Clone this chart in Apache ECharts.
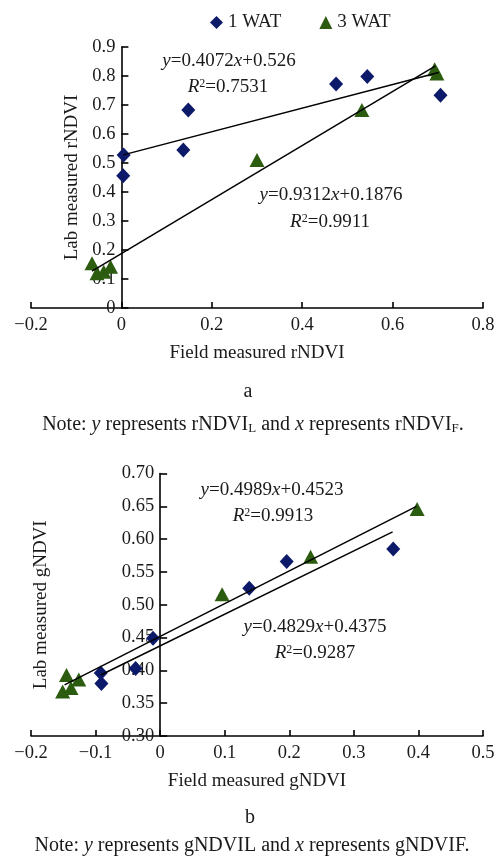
<!DOCTYPE html>
<html>
<head>
<meta charset="utf-8">
<script src="https://cdn.jsdelivr.net/npm/echarts@6/dist/echarts.min.js"></script>
<style>
html,body{margin:0;padding:0;background:#fff;}
#main{width:497px;height:861px;}
</style>
</head>
<body>
<div id="main"></div>
<script>
// ---- Chart a: rNDVI ----
var aWat1X = [0.004, 0.005, 0.137, 0.148, 0.475, 0.544, 0.706];
var aWat1Y = [0.456, 0.528, 0.545, 0.683, 0.772, 0.798, 0.734];
var aWat3X = [-0.065, -0.054, -0.039, -0.024, 0.300, 0.532, 0.693, 0.698];
var aWat3Y = [0.154, 0.120, 0.125, 0.142, 0.510, 0.683, 0.823, 0.809];
var aFit1X = [0.004, 0.702];
var aFit1Y = [0.528, 0.812];
var aFit3X = [-0.065, 0.695];
var aFit3Y = [0.127, 0.835];
var aXTicks = [-0.2, 0, 0.2, 0.4, 0.6, 0.8];
var aYTicks = [0, 0.1, 0.2, 0.3, 0.4, 0.5, 0.6, 0.7, 0.8, 0.9];

// ---- Chart b: gNDVI ----
var bWat1X = [-0.092, -0.091, -0.038, -0.011, 0.138, 0.196, 0.361];
var bWat1Y = [0.396, 0.380, 0.403, 0.449, 0.525, 0.566, 0.585];
var bWat3X = [-0.151, -0.145, -0.138, -0.126, 0.096, 0.233, 0.398];
var bWat3Y = [0.368, 0.393, 0.373, 0.386, 0.516, 0.573, 0.646];
var bFit1X = [-0.092, 0.360];
var bFit1Y = [0.393, 0.611];
var bFit3X = [-0.148, 0.397];
var bFit3Y = [0.378, 0.650];
var bXTicks = [-0.2, -0.1, 0, 0.1, 0.2, 0.3, 0.4, 0.5];
var bYTicks = [0.30, 0.35, 0.40, 0.45, 0.50, 0.55, 0.60, 0.65, 0.70];

var seriesNames = ['1 WAT', '3 WAT'];

function pairs(xs, ys) { return xs.map(function (x, i) { return [x, ys[i]]; }); }

var FONT = 'Liberation Serif';
var NAVY = '#0d1a6a';
var GREEN = '#2b5c10';
var TXT = '#1a1a1a';
var GRID_W = 452;

function minusFmt(v) { return String(v).replace('-', '\u2212'); }

function xAxisCfg(idx, ticks, name) {
  return {
    type: 'value', gridIndex: idx,
    min: ticks[0], max: ticks[ticks.length - 1], interval: ticks[1] - ticks[0],
    name: name, nameLocation: 'middle', nameGap: 36,
    nameTextStyle: { fontFamily: FONT, fontSize: 19, color: TXT },
    axisLine: { onZero: true, lineStyle: { color: '#000', width: 1.6 } },
    axisTick: { inside: true, length: 6, lineStyle: { color: '#000', width: 1.6 } },
    axisLabel: { margin: 8, fontFamily: FONT, fontSize: 18.5, color: TXT,
      formatter: function (v) { return minusFmt(+v.toFixed(2)); } },
    splitLine: { show: false }
  };
}
// y axis sits on x = 0 of the companion x axis (shifted via offset)
function yAxisCfg(idx, ticks, xTicks, name, gap, dec) {
  var xmin = xTicks[0], xmax = xTicks[xTicks.length - 1];
  var off = -(0 - xmin) / (xmax - xmin) * GRID_W;
  return {
    type: 'value', gridIndex: idx, position: 'left', offset: off,
    min: ticks[0], max: ticks[ticks.length - 1], interval: +(ticks[1] - ticks[0]).toFixed(3),
    name: name, nameLocation: 'middle', nameGap: gap, nameRotate: 90,
    nameTextStyle: { fontFamily: FONT, fontSize: 19, color: TXT },
    axisLine: { show: true, onZero: false, lineStyle: { color: '#000', width: 1.6 } },
    axisTick: { show: true, inside: true, length: 7, lineStyle: { color: '#000', width: 1.6 } },
    axisLabel: { margin: 6, fontFamily: FONT, fontSize: 18.5, color: TXT,
      formatter: function (v) { return dec ? v.toFixed(dec) : String(+v.toFixed(2)); } },
    splitLine: { show: false }
  };
}

function fitLine(xi, xs, ys) {
  return { type: 'line', name: 'fit', xAxisIndex: xi, yAxisIndex: xi, data: pairs(xs, ys),
    symbol: 'none', silent: true, z: 3,
    lineStyle: { color: '#000', width: 1.5 } };
}
function scat(xi, name, sym, color, xs, ys) {
  return { type: 'scatter', name: name, xAxisIndex: xi, yAxisIndex: xi, data: pairs(xs, ys),
    symbol: sym, symbolSize: sym === 'diamond' ? [14, 15] : [15, 14],
    itemStyle: { color: color, opacity: 1 }, z: 2 };
}

var rich = {
  i: { fontFamily: FONT, fontSize: 19, fontStyle: 'italic', fill: TXT },
  n: { fontFamily: FONT, fontSize: 19, fill: TXT },
  sup: { fontFamily: FONT, fontSize: 12, verticalAlign: 'top', fill: TXT },
  sub: { fontFamily: FONT, fontSize: 13, verticalAlign: 'bottom', fill: TXT },
  ns: { fontFamily: FONT, fontSize: 20, fill: TXT },
  is: { fontFamily: FONT, fontSize: 20, fontStyle: 'italic', fill: TXT }
};
function txt(x, y, s) {
  return { type: 'text', x: x, y: y, style: { text: s, rich: rich, align: 'center', verticalAlign: 'middle',
    fontFamily: FONT, fontSize: 19, fill: TXT } };
}

var chart = echarts.init(document.getElementById('main'), null, { renderer: 'canvas' });
chart.setOption({
  backgroundColor: '#fff',
  animation: false,
  legend: {
    data: [{ name: seriesNames[0], icon: 'diamond' }, { name: seriesNames[1], icon: 'triangle' }],
    left: 205, top: 8, itemWidth: 13, itemHeight: 13, itemGap: 38,
    itemStyle: { opacity: 1 },
    textStyle: { fontFamily: FONT, fontSize: 19, color: TXT }
  },
  grid: [
    { left: 31, width: GRID_W, top: 47, height: 261, outerBoundsMode: 'none', containLabel: false },
    { left: 31, width: GRID_W, top: 473.5, height: 262.5, outerBoundsMode: 'none', containLabel: false }
  ],
  xAxis: [
    xAxisCfg(0, aXTicks, 'Field measured rNDVI'),
    xAxisCfg(1, bXTicks, 'Field measured gNDVI')
  ],
  yAxis: [
    yAxisCfg(0, aYTicks, aXTicks, 'Lab measured rNDVI', 39, 0),
    yAxisCfg(1, bYTicks, bXTicks, 'Lab measured gNDVI', 110, 2)
  ],
  series: [
    scat(0, seriesNames[0], 'diamond', NAVY, aWat1X, aWat1Y),
    scat(0, seriesNames[1], 'triangle', GREEN, aWat3X, aWat3Y),
    fitLine(0, aFit1X, aFit1Y),
    fitLine(0, aFit3X, aFit3Y),
    scat(1, seriesNames[0], 'diamond', NAVY, bWat1X, bWat1Y),
    scat(1, seriesNames[1], 'triangle', GREEN, bWat3X, bWat3Y),
    fitLine(1, bFit1X, bFit1Y),
    fitLine(1, bFit3X, bFit3Y)
  ],
  graphic: [
    txt(229, 61, '{i|y}{n|=0.4072}{i|x}{n|+0.526}'),
    txt(228, 87, '{i|R}{sup|2}{n|=0.7531}'),
    txt(331, 195, '{i|y}{n|=0.9312}{i|x}{n|+0.1876}'),
    txt(330, 222, '{i|R}{sup|2}{n|=0.9911}'),
    txt(248, 392, '{ns|a}'),
    txt(253, 425, '{ns|Note: }{is|y}{ns| represents rNDVI}{sub|L}{ns| and }{is|x}{ns| represents rNDVI}{sub|F}{ns|.}'),
    txt(272, 490, '{i|y}{n|=0.4989}{i|x}{n|+0.4523}'),
    txt(273, 516, '{i|R}{sup|2}{n|=0.9913}'),
    txt(315, 627, '{i|y}{n|=0.4829}{i|x}{n|+0.4375}'),
    txt(315, 653, '{i|R}{sup|2}{n|=0.9287}'),
    txt(250, 818, '{ns|b}'),
    txt(252, 846, '{ns|Note: }{is|y}{ns| represents gNDVIL and }{is|x}{ns| represents gNDVIF.}')
  ]
});
</script>
</body>
</html>
